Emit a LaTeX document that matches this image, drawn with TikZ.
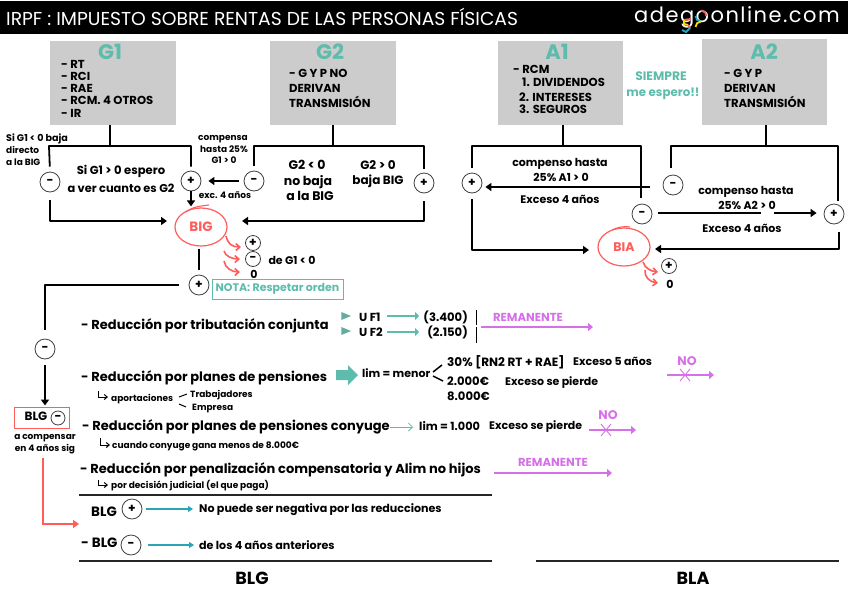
\documentclass[tikz,border=0pt]{standalone}
\usepackage{fontspec}
\setmainfont{Poppins}
\newfontfamily\webfont[LetterSpace=7]{Poppins}
\usetikzlibrary{arrows.meta, shapes.geometric}
\definecolor{verde}{HTML}{5DBCAB}
\definecolor{turquesa}{HTML}{2BA5B5}
\definecolor{rojo}{HTML}{FF5C5C}
\definecolor{lila}{HTML}{D670E8}
\definecolor{gris}{HTML}{CCCCCC}
\newcommand{\fs}[1]{\fontsize{#1}{#1}\selectfont}
\tikzset{
  caja/.style={fill=gris, inner sep=0pt, anchor=north west},
  titulo/.style={text=verde, font=\fs{21}\bfseries, inner sep=0pt},
  txt/.style={font=\fs{11.6}\bfseries, inner sep=0pt, anchor=west, text height=.72em, text depth=.2em, yshift=-1.5pt},
  med/.style={font=\fs{11}\bfseries, inner sep=0pt, text height=.72em, text depth=.2em, yshift=-1.5pt},
  chico/.style={font=\fs{9}\bfseries, inner sep=0pt, text height=.72em, text depth=.2em, yshift=-1pt},
  red/.style={font=\fs{13}\bfseries, inner sep=0pt, anchor=west, text height=.72em, text depth=.2em, yshift=-1.5pt},
  signo/.style={circle, draw=black!75, line width=0.8pt, fill=white, minimum size=20pt, inner sep=0pt, font=\fs{12}\bfseries},
  signito/.style={signo, minimum size=15pt},
  linea/.style={line width=1.8pt, line join=round},
  flecha/.style={linea, -{Triangle[length=6pt,width=8pt]}},
  flechar/.style={rojo, line width=1.6pt, -{Straight Barb[length=4pt,width=7pt]}},
  flechav/.style={verde, line width=2.6pt, -{Triangle[length=4pt,width=8pt]}},
  flechat/.style={turquesa, line width=1.1pt, -{Triangle[length=5pt,width=6pt]}},
  flechal/.style={lila, line width=2pt, -{Triangle[length=5pt,width=8pt]}},
  morado/.style={text=lila, font=\fs{11.6}\bfseries, inner sep=0pt},
  gancho/.style={line width=1pt, -{Straight Barb[length=3pt,width=5pt]}}
}
\begin{document}
\begin{tikzpicture}[x=1pt, y=-1pt]
\useasboundingbox (0,0) rectangle (848,600);
% cabecera
\fill[black] (0,1) rectangle (848,34);
\node[anchor=west, text=white, font=\fs{18.7}, inner sep=0pt] (cabecera) at (6,17) {IRPF : IMPUESTO SOBRE RENTAS DE LAS PERSONAS FÍSICAS};
\node[anchor=west, text=white, font=\webfont\fs{21}, inner sep=0pt] (web) at (634,17) {adegoonline.com};
% logo
\draw[rojo, line width=2pt] (684,20) -- (691,19);
\draw[yellow!80!orange, line width=2pt] (684,20) -- (684,24) -- (688,25);
\draw[rojo, line width=2pt] (688,25) -- (690,28);
\draw[turquesa, line width=2pt] (690,28) -- (686,32) -- (682,30);
\draw[turquesa, line width=1.8pt] (695.5,16) arc (180:90:5.5);
\draw[yellow!80!orange, line width=1.8pt] (701,21.5) arc (270:180:5.5);
\draw[rojo, line width=1.8pt] (706.5,16) arc (360:270:5.5);

% cajas
\node[caja, minimum width=126pt, minimum height=84pt] (G1) at (50,41) {};
\node[caja, minimum width=126pt, minimum height=84pt] (G2) at (270,41) {};
\node[caja, minimum width=125pt, minimum height=84pt] (A1) at (498,41) {};
\node[caja, minimum width=125pt, minimum height=86pt] (A2) at (702,39) {};
\node[titulo] (tG1) at (110,52) {G1};
\node[titulo] (tG2) at (330,52) {G2};
\node[titulo] (tA1) at (557,52) {A1};
\node[titulo] (tA2) at (764,52) {A2};
\node[txt] (g1a) at (61,64) {- RT};
\node[txt] (g1b) at (61,76) {- RCI};
\node[txt] (g1c) at (61,88) {- RAE};
\node[txt] (g1d) at (61,100) {- RCM. 4 OTROS};
\node[txt] (g1e) at (61,113) {- IR};
\node[txt] (g2a) at (289,73) {- G Y P NO};
\node[txt] (g2b) at (289,88) {DERIVAN};
\node[txt] (g2c) at (289,103) {TRANSMISIÓN};
\node[txt] (a1a) at (513,69) {- RCM};
\node[txt] (a1b) at (522,82) {1. DIVIDENDOS};
\node[txt] (a1c) at (519,97) {2. INTERESES};
\node[txt] (a1d) at (519,109) {3. SEGUROS};
\node[txt] (a2a) at (724,73) {- G Y P};
\node[txt] (a2b) at (724,88) {DERIVAN};
\node[txt] (a2c) at (724,103) {TRANSMISIÓN};
\node[med, text=verde, font=\fs{12.3}\bfseries] (siempre) at (661,76) {SIEMPRE};
\node[med, text=verde, font=\fs{11.8}\bfseries] (espero) at (663,92) {me espero!!};

% signos G
\node[signo] (g1m) at (50,182) {-};
\node[signo] (g1p) at (191,181) {+};
\node[signo] (g2m) at (254,181) {-};
\node[signo] (g2p) at (424,183) {+};
\node[signo] (bigp) at (199,285) {+};
\node[signo] (blgm) at (45,349) {-};
\coordinate (c1) at (110,146);
\coordinate (c2) at (333,146);
\draw[linea] (G1.south -| c1) -- (c1);
\draw[linea, shorten <=5pt, shorten >=4pt] (g1m.north) -- (49,146) -- (191,146) -- (g1p.north);
\draw[linea] (G2.south -| c2) -- (c2);
\draw[linea, shorten <=5pt, shorten >=4pt] (g2m.north) -- (254,146) -- (424,146) -- (g2p.north);

% BIG
\node[ellipse, draw=rojo, line width=1.2pt, minimum width=52pt, minimum height=38pt, text=rojo, font=\fs{13.5}\bfseries, inner sep=0pt] (BIG) at (201,227) {BIG};
\draw[rojo, line width=1.1pt] (186,212) .. controls (192,207) and (200,206) .. (209,205);
\coordinate (bi) at (167,221);
\coordinate (bd) at (242,221);
\draw[flecha, shorten >=1pt] (g1p.south) -- (BIG.north -| g1p);
\draw[flecha, shorten <=5pt, shorten >=7pt] (g2m.west) -- (g1p.east);
\draw[flecha, shorten <=8pt] (g1m.south) |- (bi);
\draw[flecha, shorten <=8pt] (g2p.south) |- (bd);
\node[signito] (bgp) at (253,243) {+};
\node[signito] (bgm) at (253,259) {-};
\node[med, font=\fs{11}\bfseries] (bg0) at (254,274) {0};
\node[med] (deg1) at (292,260) {de G1 < 0};
\coordinate (r1) at (226,236);
\coordinate (r2) at (224,251);
\coordinate (r3) at (224,261);
\coordinate (r1b) at (241,247);
\coordinate (r2b) at (240,259);
\coordinate (r3b) at (240,272);
\draw[flechar] (r1) .. controls (228,244) and (232,247) .. (r1b);
\draw[flechar] (r2) .. controls (225,256) and (232,259) .. (r2b);
\draw[flechar] (r3) .. controls (225,268) and (232,272) .. (r3b);
\draw[linea, shorten <=2pt, shorten >=5pt] (BIG.south -| bigp) -- (bigp.north);
\node[draw=verde, line width=1pt, minimum width=131pt, minimum height=20pt, inner sep=0pt, text=verde, font=\fs{11}\bfseries] (nota) at (277.5,289) {NOTA: Respetar orden};
\draw[linea, shorten <=10pt, shorten >=9pt] (bigp.west) -| (blgm.north);

% textos G
\node[chico, anchor=west, font=\fs{9.6}\bfseries] (s1) at (6,138) {Si G1 < 0 baja};
\node[chico, anchor=west] (s2) at (6,150) {directo};
\node[chico, anchor=west] (s3) at (6,162) {a la BIG};
\node[med, font=\fs{11.6}\bfseries] (s4) at (121,170) {Si G1 > 0 espero};
\node[med, font=\fs{11.4}\bfseries] (s5) at (121,188) {a ver cuanto es G2};
\node[chico] (s6) at (223,137) {compensa};
\node[chico] (s7) at (224,149) {hasta 25\%};
\node[chico] (s8) at (224,160) {G1 > 0};
\node[chico] (s9) at (225,195) {exc. 4 años};
\node[med, font=\fs{12.5}\bfseries] (s10) at (307,165) {G2 < 0};
\node[med, font=\fs{12.5}\bfseries] (s11) at (308,181) {no baja};
\node[med, font=\fs{12.5}\bfseries] (s12) at (310,196) {a la BIG};
\node[med, font=\fs{12}\bfseries] (s13) at (378,165) {G2 > 0};
\node[med, font=\fs{12}\bfseries] (s14) at (378,180) {baja BIG};

% signos A
\node[signo] (a1p) at (472,183) {+};
\node[signo] (a1m) at (642,214) {-};
\node[signo] (a2m) at (673,185) {-};
\node[signo] (a2p) at (834,214) {+};
\coordinate (c3) at (563,146);
\coordinate (c4) at (766,146);
\draw[linea] (A1.south -| c3) -- (c3);
\draw[linea, shorten <=5pt, shorten >=6pt] (a1p.north) -- (472,146) -- (641,146) -- (641,204);
\draw[linea] (A2.south -| c4) -- (c4);
\draw[linea, shorten <=7pt, shorten >=3pt] (671,175) -- (671,146) -- (838,146) -- (838,204);
\coordinate (f1) at (650,187);
\draw[flecha, shorten >=3pt] (f1) -- (a1p.east |- f1);
\coordinate (h1) at (761,213);
\coordinate (h2) at (774,213);
\draw[linea, shorten <=6pt] (a1m.east |- h1) -- (h1);
\draw[flecha, shorten >=7pt] (h2) -- (a2p.west |- h2);

% BIA
\node[ellipse, draw=rojo, line width=1.2pt, minimum width=52pt, minimum height=38pt, text=rojo, font=\fs{12.5}\bfseries, inner sep=0pt] (BIA) at (624,247) {BIA};
\draw[rojo, line width=1.1pt] (612,230) .. controls (618,227) and (624,226) .. (630,227);
\coordinate (ai) at (589,250);
\coordinate (ad) at (655,249);
\coordinate (a2b) at (839,224);
\draw[flecha, shorten <=6pt] (a1p.south) |- (ai);
\draw[flecha, shorten <=8pt] (a2b) |- (ad);
\node[signito] (bap) at (669,266) {+};
\node[med] (ba0) at (670,284) {0};
\coordinate (r4) at (643,262);
\coordinate (r5) at (645,270);
\coordinate (r4b) at (658,272);
\coordinate (r5b) at (658,283);
\draw[flechar] (r4) .. controls (645,268) and (650,271) .. (r4b);
\draw[flechar] (r5) .. controls (644,277) and (650,282) .. (r5b);
\node[med] (t1) at (560,162) {compenso hasta};
\node[med] (t2) at (561,177) {25\% A1 > 0};
\node[med] (t3) at (560,199) {Exceso 4 años};
\node[med] (t4) at (746,190) {compenso hasta};
\node[med] (t5) at (747,205) {25\% A2 > 0};
\node[med] (t6) at (742,228) {Exceso 4 años};

% BLG negativa
\node[draw=rojo, line width=1pt, minimum width=55pt, minimum height=21pt, inner sep=0pt] (cajablg) at (41.5,417.5) {};
\node[med, font=\fs{12}\bfseries] (tblg) at (36,416) {BLG};
\node[signito, minimum size=14pt] (blgc) at (58,418) {-};
\draw[flecha, shorten <=6pt, shorten >=1pt] (blgm.south) -- (cajablg.north -| blgm);
\node[chico] (t7) at (45,436) {a compensar};
\node[chico] (t8) at (45,448) {en 4 años sig};
\coordinate (p1) at (43,458);
\coordinate (p2) at (79,524);
\draw[rojo, line width=1.6pt, -{Triangle[length=6pt,width=8pt]}] (p1) |- (p2);

% reducciones
\node[red] (r-a) at (81,325) {- Reducción por tributación conjunta};
\node[isosceles triangle, fill=verde!70!gray, minimum size=8pt, inner sep=0pt] (tr1) at (344,316) {};
\node[isosceles triangle, fill=verde!70!gray, minimum size=8pt, inner sep=0pt] (tr2) at (344,331) {};
\node[txt] (uf1) at (359,317) {U F1};
\node[txt] (uf2) at (359,332) {U F2};
\node[txt, anchor=east] (n1) at (468,317) {(3.400)};
\node[txt, anchor=east] (n2) at (468,332) {(2.150)};
\coordinate (v1) at (387,316);
\coordinate (v2) at (419,316);
\coordinate (v3) at (387,332);
\coordinate (v4) at (419,332);
\draw[flechav] (v1) -- (v2);
\draw[flechav] (v3) -- (v4);
\draw[line width=0.7pt] (476,310) -- (476,325) (476,327) -- (476,343);
\node[morado] (rem1) at (528,317) {REMANENTE};
\coordinate (l1) at (481,327);
\coordinate (l2) at (593,327);
\draw[flechal] (l1) -- (l2);

\node[red] (r-b) at (81,377) {- Reducción por planes de pensiones};
\fill[verde] (336,370) -- (348,370) -- (348,365) -- (358,375) -- (348,385) -- (348,380) -- (336,380) -- cycle;
\node[txt, font=\fs{11}\bfseries] (lim) at (362,373) {lim = menor};
\draw[line width=1.5pt] (442,365) -- (433,372) (433,376) -- (443,381);
\node[txt, font=\fs{12}\bfseries] (m1) at (447,362) {30\% [RN2 RT + RAE]};
\node[txt] (m2) at (447,381) {2.000€};
\node[txt] (m3) at (447,396) {8.000€};
\node[med, anchor=west] (m4) at (573,361) {Exceso 5 años};
\node[med, anchor=west] (m5) at (505,381) {Exceso se pierde};
\node[morado, font=\fs{12.5}\bfseries] (no1) at (687,361) {NO};
\coordinate (l3) at (667,375);
\coordinate (l4) at (714,375);
\draw[flechal] (l3) -- (l4);
\draw[lila, line width=0.9pt] (680,369) -- (690,381) (690,369) -- (680,381);
\coordinate (h3) at (98,391);
\coordinate (h4) at (108,397);
\draw[gancho] (h3) |- (h4);
\node[chico, anchor=west] (ap) at (111,398) {aportaciones};
\draw[line width=1pt] (179,397) -- (187,394) (179,404) -- (186,407);
\node[chico, anchor=west] (tra) at (190,394) {Trabajadores};
\node[chico, anchor=west] (emp) at (192,407) {Empresa};

\node[red] (r-c) at (82,426) {- Reducción por planes de pensiones conyuge};
\coordinate (v5) at (413,427);
\draw[verde, line width=0.8pt, -{Straight Barb[length=4pt,width=8pt]}] (r-c.east |- v5) -- (v5);
\node[txt, font=\fs{11.3}\bfseries] (lim2) at (419,426) {lim = 1.000};
\node[med, anchor=west] (ex) at (489,425) {Exceso se pierde};
\node[morado, font=\fs{12.5}\bfseries] (no2) at (608,415) {NO};
\coordinate (l5) at (589,430);
\coordinate (l6) at (636,430);
\draw[flechal] (l5) -- (l6);
\draw[lila, line width=0.9pt] (601,424) -- (611,436) (611,424) -- (601,436);
\coordinate (h5) at (100,438);
\coordinate (h6) at (110,445);
\draw[gancho] (h5) |- (h6);
\node[chico, anchor=west] (con) at (112,445) {cuando conyuge gana menos de 8.000€};

\node[red] (r-d) at (80,469) {- Reducción por penalización compensatoria y Alim no hijos};
\node[morado] (rem2) at (553,462) {REMANENTE};
\coordinate (l7) at (494,473);
\coordinate (l8) at (612,473);
\draw[flechal] (l7) -- (l8);
\coordinate (h7) at (98,480);
\coordinate (h8) at (108,485);
\draw[gancho] (h7) |- (h8);
\node[chico, anchor=west] (dec) at (111,485) {por decisión judicial (el que paga)};

% base general
\coordinate (b1) at (79,495);
\coordinate (b2) at (492,495);
\draw[linea, black!85] (b1) -- (b2);
\node[red, font=\fs{13.5}\bfseries] (blgmas) at (91,512) {BLG};
\node[signo] (blgp2) at (132,509) {+};
\node[txt, font=\fs{11.1}\bfseries] (tp) at (199,508) {No puede ser negativa por las reducciones};
\draw[flechat, shorten <=4pt, shorten >=6pt] (blgp2.east) -- (tp.west |- blgp2);
\node[red, font=\fs{13.5}\bfseries] (blgmen) at (81,543) {- BLG};
\node[signo] (blgm2) at (131,545) {-};
\node[txt, font=\fs{11.1}\bfseries] (tm) at (199,545) {de los 4 años anteriores};
\draw[flechat, shorten <=7pt, shorten >=5pt] (blgm2.east) -- (tm.west |- blgm2);
\coordinate (b3) at (79,561);
\coordinate (b4) at (492,561);
\coordinate (b5) at (536,561);
\coordinate (b6) at (839,561);
\draw[linea, black!85] (b3) -- (b4);
\draw[linea, black!85] (b5) -- (b6);
\node[font=\fs{17.5}\bfseries, inner sep=0pt] (pieblg) at (252,578) {BLG};
\node[font=\fs{17.5}\bfseries, inner sep=0pt] (piebla) at (693,578) {BLA};
\end{tikzpicture}
\end{document}
